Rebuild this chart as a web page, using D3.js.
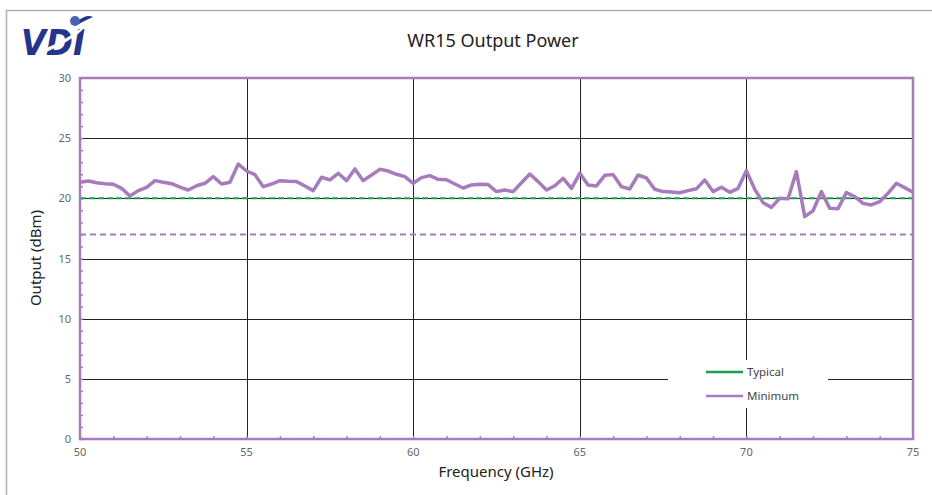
<!DOCTYPE html>
<html>
<head>
<meta charset="utf-8">
<script src="https://cdn.jsdelivr.net/npm/d3@7"></script>
<style>
  body { margin: 0; background: #fff; }
  svg { font-family: "Noto Sans", "Open Sans", sans-serif; }
</style>
</head>
<body>
<svg width="932" height="495"></svg>
<script>
// measured frequency points (GHz)
var freq = [50, 50.25, 50.5, 50.75, 51, 51.25, 51.5, 51.75, 52, 52.25, 52.5, 52.75,
    53, 53.25, 53.5, 53.75, 54, 54.25, 54.5, 54.75, 55, 55.25, 55.5, 55.75,
    56, 56.25, 56.5, 56.75, 57, 57.25, 57.5, 57.75, 58, 58.25, 58.5, 58.75,
    59, 59.25, 59.5, 59.75, 60, 60.25, 60.5, 60.75, 61, 61.25, 61.5, 61.75,
    62, 62.25, 62.5, 62.75, 63, 63.25, 63.5, 63.75, 64, 64.25, 64.5, 64.75,
    65, 65.25, 65.5, 65.75, 66, 66.25, 66.5, 66.75, 67, 67.25, 67.5, 67.75,
    68, 68.25, 68.5, 68.75, 69, 69.25, 69.5, 69.75, 70, 70.25, 70.5, 70.75,
    71, 71.25, 71.5, 71.75, 72, 72.25, 72.5, 72.75, 73, 73.25, 73.5, 73.75,
    74, 74.25, 74.5, 74.75, 75];

// measured output power (dBm)
var output = [21.33, 21.44, 21.30, 21.22, 21.17, 20.83, 20.20, 20.64, 20.92, 21.47, 21.33, 21.22,
    20.94, 20.69, 21.05, 21.25, 21.80, 21.19, 21.33, 22.85, 22.27, 21.97, 20.97, 21.19,
    21.47, 21.42, 21.39, 21.03, 20.64, 21.75, 21.53, 22.08, 21.47, 22.44, 21.47, 21.94,
    22.41, 22.27, 22.00, 21.80, 21.25, 21.72, 21.89, 21.58, 21.55, 21.19, 20.86, 21.11,
    21.17, 21.14, 20.56, 20.69, 20.56, 21.30, 22.02, 21.39, 20.69, 21.05, 21.66, 20.83,
    22.08, 21.11, 21.03, 21.91, 21.97, 20.97, 20.78, 21.94, 21.69, 20.75, 20.56, 20.53,
    20.47, 20.64, 20.79, 21.53, 20.56, 20.92, 20.50, 20.83, 22.30, 20.75, 19.64, 19.25,
    20.00, 19.97, 22.22, 18.48, 18.97, 20.56, 19.17, 19.14, 20.47, 20.14, 19.58, 19.45,
    19.72, 20.42, 21.25, 20.89, 20.50];

// spec lines
var typicalLevel = 20;
var minimumLevel = 17;

var xTicks = [50, 55, 60, 65, 70, 75];
var yTicks = [0, 5, 10, 15, 20, 25, 30];

var purple = "#a67cbd",
    green = "#16a050";

var svg = d3.select("svg");

var x = d3.scaleLinear().domain([50, 75]).range([80, 913]);
var y = d3.scaleLinear().domain([0, 30]).range([439, 78]);

// outer frame (top + left only visible)
svg.append("line").attr("x1", 6).attr("x2", 932).attr("y1", 10.5).attr("y2", 10.5)
    .attr("stroke", "#b0b0b0").attr("stroke-width", 1.5);
svg.append("line").attr("x1", 6.5).attr("x2", 6.5).attr("y1", 10).attr("y2", 495)
    .attr("stroke", "#b0b0b0").attr("stroke-width", 1.5);

// logo
var logo = svg.append("g").attr("transform", "translate(21,55)");
logo.append("text")
    .attr("x", 0).attr("y", 0)
    .attr("font-family", "'DejaVu Sans', sans-serif")
    .attr("font-weight", "bold")
    .attr("font-style", "italic")
    .attr("font-size", 35)
    .attr("fill", "#26358c")
    .attr("textLength", 64)
    .attr("lengthAdjust", "spacingAndGlyphs")
    .text("VDI");
// swoosh
logo.append("path")
    .attr("d", "M14,-2 C 34,-10 58,-22 70,-36 C 66,-26 48,-12 18,0 Z")
    .attr("fill", "#fff");
logo.append("path")
    .attr("d", "M56,-33 C 62,-39 68,-40 72,-38 C 68,-36 62,-34 58,-31 Z")
    .attr("fill", "#26358c");
logo.append("circle").attr("cx", 54).attr("cy", -34).attr("r", 5)
    .attr("fill", "#4a63b8");

// title
svg.append("text")
    .attr("x", 493).attr("y", 47)
    .attr("text-anchor", "middle")
    .attr("font-size", 18)
    .attr("fill", "#222")
    .text("WR15 Output Power");

// grid
var grid = svg.append("g").attr("class", "grid");
grid.selectAll("line.h")
    .data(yTicks.filter(function (d) { return d > 0 && d < 30; }))
    .enter().append("line")
    .attr("class", "h")
    .attr("x1", x(50)).attr("x2", x(75))
    .attr("y1", function (d) { return Math.round(y(d)) + 0.5; })
    .attr("y2", function (d) { return Math.round(y(d)) + 0.5; })
    .attr("stroke", "#222").attr("stroke-width", 1);
grid.selectAll("line.v")
    .data(xTicks.filter(function (d) { return d > 50 && d < 75; }))
    .enter().append("line")
    .attr("class", "v")
    .attr("y1", y(0)).attr("y2", y(30))
    .attr("x1", function (d) { return Math.round(x(d)) + 0.5; })
    .attr("x2", function (d) { return Math.round(x(d)) + 0.5; })
    .attr("stroke", "#222").attr("stroke-width", 1);

// legend box hides grid underneath
svg.append("rect")
    .attr("x", 668).attr("y", 360).attr("width", 160).attr("height", 48)
    .attr("fill", "#fff");

// minor ticks on the axes
svg.append("g")
    .attr("transform", "translate(0," + y(0) + ")")
    .call(d3.axisBottom(x).ticks(25).tickSize(-3).tickFormat(""))
    .call(function (g) {
        g.select(".domain").remove();
        g.selectAll("line").attr("stroke", purple).attr("stroke-width", 1.5);
    });
svg.append("g")
    .attr("transform", "translate(" + x(50) + ",0)")
    .call(d3.axisLeft(y).ticks(30).tickSize(-3).tickFormat(""))
    .call(function (g) {
        g.select(".domain").remove();
        g.selectAll("line").attr("stroke", purple).attr("stroke-width", 1.5);
    });

// spec lines
svg.append("line")
    .attr("x1", x(50)).attr("x2", x(75))
    .attr("y1", y(typicalLevel)).attr("y2", y(typicalLevel))
    .attr("stroke", green).attr("stroke-width", 2)
    .attr("stroke-dasharray", "6,3");
svg.append("line")
    .attr("x1", x(50)).attr("x2", x(75))
    .attr("y1", y(minimumLevel)).attr("y2", y(minimumLevel))
    .attr("stroke", purple).attr("stroke-width", 2)
    .attr("stroke-dasharray", "6,4");

// measured curve
var line = d3.line()
    .x(function (d, i) { return x(freq[i]); })
    .y(function (d) { return y(d); });
svg.append("path")
    .datum(output)
    .attr("d", line)
    .attr("fill", "none")
    .attr("stroke", purple)
    .attr("stroke-width", 3.5)
    .attr("stroke-linejoin", "round");

// plot frame
svg.append("rect")
    .attr("x", x(50)).attr("y", y(30))
    .attr("width", x(75) - x(50)).attr("height", y(0) - y(30))
    .attr("fill", "none")
    .attr("stroke", purple).attr("stroke-width", 2.5);

// tick labels
svg.append("g").selectAll("text")
    .data(yTicks).enter().append("text")
    .attr("x", 71).attr("y", function (d) { return y(d) + 4; })
    .attr("text-anchor", "end")
    .attr("font-size", 11).attr("fill", "#666")
    .text(function (d) { return d; });
svg.append("g").selectAll("text")
    .data(xTicks).enter().append("text")
    .attr("x", function (d) { return x(d); }).attr("y", 456)
    .attr("text-anchor", "middle")
    .attr("font-size", 11).attr("fill", "#666")
    .text(function (d) { return d; });

// axis titles
svg.append("text")
    .attr("x", 496).attr("y", 477)
    .attr("text-anchor", "middle")
    .attr("font-size", 15).attr("fill", "#222")
    .text("Frequency (GHz)");
svg.append("text")
    .attr("transform", "translate(41,258) rotate(-90)")
    .attr("text-anchor", "middle")
    .attr("font-size", 15).attr("fill", "#222")
    .text("Output (dBm)");

// legend
var legendItems = [{ name: "Typical", color: green }, { name: "Minimum", color: purple }];
var legend = svg.append("g").attr("transform", "translate(706,372)");
legendItems.forEach(function (item, i) {
    var row = legend.append("g").attr("transform", "translate(0," + (i * 24) + ")");
    row.append("line").attr("x1", 0).attr("x2", 37)
        .attr("stroke", item.color).attr("stroke-width", 2.5);
    row.append("text").attr("x", 41).attr("y", 4)
        .attr("font-size", 11.5).attr("fill", "#444")
        .text(item.name);
});
</script>
</body>
</html>
